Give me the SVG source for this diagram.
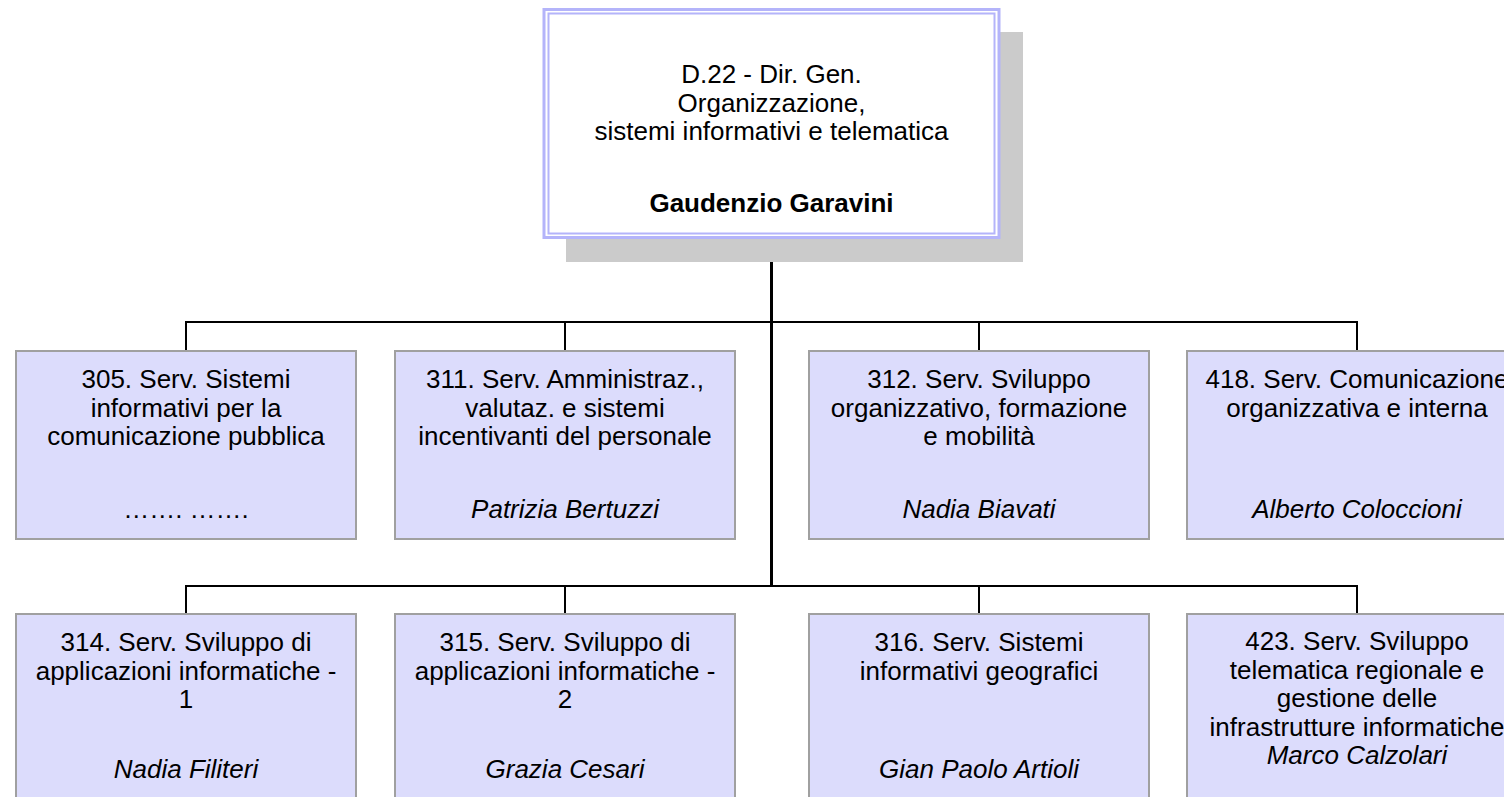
<svg xmlns="http://www.w3.org/2000/svg" width="1504" height="797" viewBox="0 0 1504 797">
<style>
text{font-family:"Liberation Sans",Arial,sans-serif;font-size:26px;fill:#000;text-anchor:middle}
.b{font-weight:bold}
.i{font-style:italic}
.box{fill:#dcdcfc;stroke:#a0a0a0;stroke-width:2}
.ln{stroke:#000;stroke-width:2;fill:none}
</style>
<rect width="1504" height="797" fill="#fff"/>
<g id="connectors">
<line class="ln" x1="771.5" y1="238" x2="771.5" y2="587" style="stroke-width:3"/>
<polyline class="ln" points="186,351 186,322 1357,322 1357,351"/>
<line class="ln" x1="565" y1="322" x2="565" y2="351"/>
<line class="ln" x1="979" y1="322" x2="979" y2="351"/>
<polyline class="ln" points="186,614 186,586 1357,586 1357,614"/>
<line class="ln" x1="565" y1="586" x2="565" y2="614"/>
<line class="ln" x1="979" y1="586" x2="979" y2="614"/>
</g>
<g id="root">
<rect x="566" y="32" width="457" height="230" fill="#cbcbcb"/>
<rect x="544" y="9.5" width="455" height="228" fill="#fff" stroke="#b4b4fa" stroke-width="3"/>
<rect x="548.5" y="13.5" width="446" height="220" fill="none" stroke="#b4b4fa" stroke-width="2"/>
<text x="771.5" y="83">D.22 - Dir. Gen.</text>
<text x="771.5" y="112">Organizzazione,</text>
<text x="771.5" y="140">sistemi informativi e telematica</text>
<text x="771.5" y="212" class="b">Gaudenzio Garavini</text>
</g>
<g id="n305">
<rect class="box" x="16" y="351" width="340" height="188"/>
<text x="186" y="388">305. Serv. Sistemi</text>
<text x="186" y="416.5">informativi per la</text>
<text x="186" y="445">comunicazione pubblica</text>
<text x="186" y="518">……. …….</text>
</g>
<g id="n311">
<rect class="box" x="395" y="351" width="340" height="188"/>
<text x="565" y="388">311. Serv. Amministraz.,</text>
<text x="565" y="416.5">valutaz. e sistemi</text>
<text x="565" y="445">incentivanti del personale</text>
<text x="565" y="518" class="i">Patrizia Bertuzzi</text>
</g>
<g id="n312">
<rect class="box" x="809" y="351" width="340" height="188"/>
<text x="979" y="388">312. Serv. Sviluppo</text>
<text x="979" y="416.5">organizzativo, formazione</text>
<text x="979" y="445">e mobilità</text>
<text x="979" y="518" class="i">Nadia Biavati</text>
</g>
<g id="n418">
<rect class="box" x="1187" y="351" width="340" height="188"/>
<text x="1357" y="388">418. Serv. Comunicazione</text>
<text x="1357" y="416.5">organizzativa e interna</text>
<text x="1357" y="518" class="i">Alberto Coloccioni</text>
</g>
<g id="n314">
<rect class="box" x="16" y="614" width="340" height="200"/>
<text x="186" y="651">314. Serv. Sviluppo di</text>
<text x="186" y="679.5">applicazioni informatiche -</text>
<text x="186" y="708">1</text>
<text x="186" y="778" class="i">Nadia Filiteri</text>
</g>
<g id="n315">
<rect class="box" x="395" y="614" width="340" height="200"/>
<text x="565" y="651">315. Serv. Sviluppo di</text>
<text x="565" y="679.5">applicazioni informatiche -</text>
<text x="565" y="708">2</text>
<text x="565" y="778" class="i">Grazia Cesari</text>
</g>
<g id="n316">
<rect class="box" x="809" y="614" width="340" height="200"/>
<text x="979" y="651">316. Serv. Sistemi</text>
<text x="979" y="679.5">informativi geografici</text>
<text x="979" y="778" class="i">Gian Paolo Artioli</text>
</g>
<g id="n423">
<rect class="box" x="1187" y="614" width="340" height="200"/>
<text x="1357" y="650">423. Serv. Sviluppo</text>
<text x="1357" y="678.5">telematica regionale e</text>
<text x="1357" y="707">gestione delle</text>
<text x="1357" y="735.5">infrastrutture informatiche</text>
<text x="1357" y="764" class="i">Marco Calzolari</text>
</g>
</svg>
